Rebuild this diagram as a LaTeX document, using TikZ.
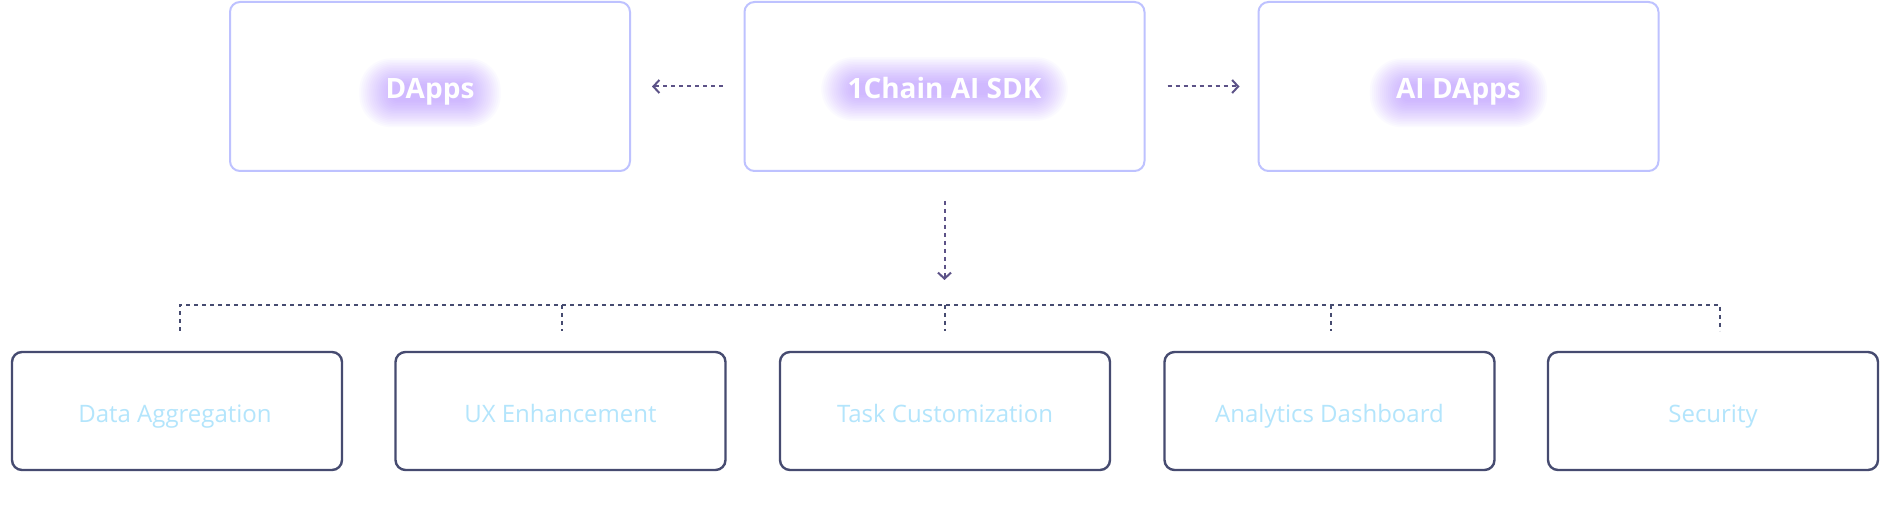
\documentclass[tikz,border=0pt]{standalone}
\usepackage{fontspec}
\setmainfont{Open Sans}
\usetikzlibrary{arrows.meta}
\definecolor{topedge}{RGB}{190,194,255}
\definecolor{botedge}{RGB}{70,75,112}
\definecolor{bottext}{RGB}{179,229,252}
\definecolor{arrowc}{RGB}{92,82,135}
\definecolor{busc}{RGB}{70,75,112}
\definecolor{glowc}{RGB}{165,115,255}
\pgfdeclarelayer{bg}
\pgfdeclarelayer{glowlayer}
\pgfsetlayers{bg,glowlayer,main}
\begin{document}
\begin{tikzpicture}[x=1pt,y=-1pt,
  topbox/.style={draw=topedge, line width=2pt, rounded corners=10pt,
    minimum width=400pt, minimum height=169pt, inner sep=0pt},
  botbox/.style={draw=botedge, line width=2.4pt, rounded corners=10pt,
    minimum width=330pt, minimum height=118pt, inner sep=0pt},
  bottxt/.style={anchor=base, inner sep=0pt, text=bottext,
    font=\fontsize{24}{28}\selectfont},
  toptext/.style={anchor=base, text=white, inner sep=0pt,
    font=\bfseries\fontsize{28}{32}\selectfont},
  flowarrow/.style={draw=arrowc, line width=2pt, dash pattern=on 4pt off 4pt,
    -{Straight Barb[length=6pt,width=13pt,line width=2pt]}},
  busline/.style={draw=busc, line width=2pt, dash pattern=on 4pt off 4pt}
]
\begin{pgfonlayer}{bg}
  \fill[white] (0,0) rectangle (1890,526);
\end{pgfonlayer}
\useasboundingbox (0,0) rectangle (1890,526);

% top boxes
\node[topbox] (dapps) at (430,86.5) {};
\node[topbox] (sdk) at (944.5,86.5) {};
\node[topbox] (aidapps) at (1458.5,86.5) {};
\node[toptext] (dappsT) at (430,98.5) {DApps};
\node[toptext] (sdkT) at (944.5,98.5) {1Chain AI SDK};
\node[toptext] (aidappsT) at (1458.5,98.5) {AI DApps};

\begin{pgfonlayer}{glowlayer}
  \foreach \t in {dappsT,sdkT,aidappsT}{
    \foreach \k in {-3,...,13}{
      \fill[glowc, opacity=0.034, rounded corners={11pt+\k*1.6pt}]
        ([shift={({-\k*2.0},{\k*1.6+1})}]\t.south west) rectangle
        ([shift={({\k*2.0},{-\k*1.6+1})}]\t.north east);
    }
  }
\end{pgfonlayer}

% bottom boxes
\node[botbox] (agg) at (177,411) {};
\node[botbox] (ux) at (560.5,411) {};
\node[botbox] (task) at (945,411) {};
\node[botbox] (dash) at (1329.5,411) {};
\node[botbox] (sec) at (1713,411) {};
\node[bottxt] at ([xshift=-2pt]agg.center |- 0,422) {Data Aggregation};
\node[bottxt] at (ux.center |- 0,422) {UX Enhancement};
\node[bottxt] at (task.center |- 0,422) {Task Customization};
\node[bottxt] at (dash.center |- 0,422) {Analytics Dashboard};
\node[bottxt] at (sec.center |- 0,422) {Security};

% arrows from SDK
\draw[flowarrow, shorten <=21pt, shorten >=21pt] (sdk.west) -- (dapps.east);
\draw[flowarrow, shorten <=22pt, shorten >=18pt] (sdk.east) -- (aidapps.west);
\coordinate (tip) at (944.5,280);
\draw[flowarrow, shorten <=29pt] (sdk.south) -- (tip);

% bus
\coordinate (b1) at (180,305);
\coordinate (b2) at (562,305);
\coordinate (b3) at (944.5,305);
\coordinate (b4) at (1331,305);
\coordinate (b5) at (1720,305);
\coordinate (d1) at (180,331);
\coordinate (d2) at (562,331);
\coordinate (d3) at (944.5,331);
\coordinate (d4) at (1331,331);
\coordinate (d5) at (1720,331);
\draw[busline] (d1) -- (b1) -- (b5) -- (d5);
\draw[busline] (b2) -- (d2);
\draw[busline] (b3) -- (d3);
\draw[busline] (b4) -- (d4);
\end{tikzpicture}
\end{document}
